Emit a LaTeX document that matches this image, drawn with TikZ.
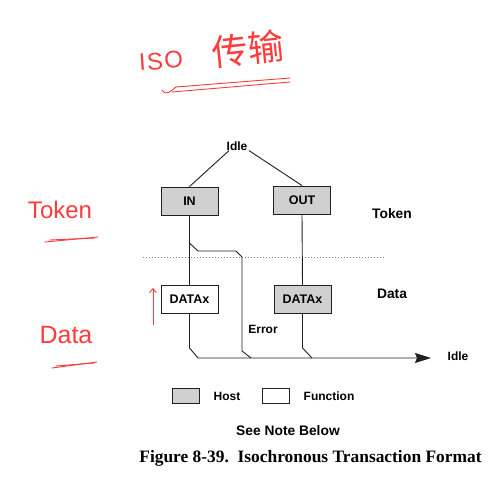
\documentclass[tikz,border=0pt]{standalone}
\usepackage{fontspec}
\setmainfont{Liberation Sans}
\newfontfamily\capfont{Liberation Serif}
\newfontfamily\cjkfont{Noto Sans CJK SC}
\usetikzlibrary{arrows.meta}
\definecolor{boxgray}{HTML}{D0D0D0}
\definecolor{linegray}{HTML}{202020}
\definecolor{hand}{HTML}{FF3B3B}
\begin{document}
\begin{tikzpicture}[x=1pt,y=-1pt,
  pbox/.style={draw=linegray,line width=0.9pt,minimum width=57pt,minimum height=28pt,inner sep=0pt,font=\bfseries\fontsize{12.5}{12.5}\selectfont},
  hostbox/.style={pbox,fill=boxgray},
  funcbox/.style={pbox,fill=white},
  lbl/.style={inner sep=0pt,font=\bfseries\fontsize{12}{12}\selectfont},
  biglbl/.style={inner sep=0pt,font=\bfseries\fontsize{13.8}{14}\selectfont},
  wire/.style={draw=linegray,line width=0.9pt},
  handink/.style={draw=hand,line width=0.9pt,line cap=round},
  handtxt/.style={text=hand,inner sep=0pt}]
\useasboundingbox (0,0) rectangle (504,486);
% handwritten annotations
\node[handtxt,rotate=4,font=\fontsize{24}{24}\selectfont\addfontfeatures{LetterSpace=6}] (iso) at (161,61) {ISO};
\node[handtxt,rotate=6,font=\cjkfont\fontsize{36}{36}\selectfont] (chuan) at (248,49) {传输};
\draw[handink] (162,90) .. controls (166,96) and (170,92) .. (176,87) -- (290,78);
\draw[handink] (172,92) -- (290,82);
\node[handtxt,font=\fontsize{24}{24}\selectfont] (tokh) at (60,210) {Token};
\draw[handink] (45,242) -- (98,237);
\draw[handink] (50,240) -- (95,238);
\node[handtxt,font=\fontsize{25}{25}\selectfont] (datah) at (66,335) {Data};
\draw[handink] (52,368) -- (97,362);
\draw[handink] (56,366) -- (94,363);
\coordinate (ra) at (153,325);
\coordinate (rb) at (153,288);
\draw[handink,-{Straight Barb[length=4pt,width=7pt]}] (ra) -- (rb);
% top idle
\node[lbl] (idle) at (237,146) {Idle};
\node[hostbox] (in) at (189.5,201) {\raisebox{-4pt}{IN}};
\node[hostbox] (out) at (302,200) {\raisebox{-4pt}{OUT}};
\node[funcbox] (dxf) at (189.5,299) {\raisebox{-3pt}{DATAx}};
\node[hostbox] (dxh) at (302.5,299.5) {\raisebox{-3pt}{DATAx}};
\draw[wire] ([xshift=-8pt]idle.south) -- (in.north);
\draw[wire] ([xshift=12pt]idle.south) -- (out.north);
\node[biglbl] (token) at (392,214) {Token};
\node[biglbl] (data) at (392,294) {Data};
\draw[gray,line width=0.7pt,dash pattern=on 1pt off 2pt] (143,257) -- (385,257);
% connectors
\coordinate (br) at (189.5,243);
\draw[wire] (in.south) -- (dxf.north);
\draw[wire] (br) -- (198,251) -- (236,251) -- (242,257) -- (242,351) -- (251,358);
\coordinate (end) at (431,358);
\draw[wire,-{Stealth[length=16pt,width=10pt,inset=2pt]}] (dxf.south) -- (189.5,348) -- (198,358) -- (end);
\draw[wire] (out.south) -- (dxh.north);
\draw[wire] (dxh.south) -- (302.5,348) -- (312,358);
\node[lbl] (err) at (263,329) {Error};
\node[lbl] (idle2) at (458,356) {Idle};
% legend
\node[hostbox,minimum width=27pt,minimum height=15pt] (lh) at (185.5,395.5) {};
\node[lbl] (lht) at (227,396) {Host};
\node[funcbox,minimum width=27pt,minimum height=15pt] (lf) at (275.5,395.5) {};
\node[lbl] (lft) at (329,396) {Function};
\node[biglbl] (note) at (288,431) {See Note Below};
\node[inner sep=0pt,font=\capfont\bfseries\fontsize{17.4}{18}\selectfont] (cap) at (310.5,458) {Figure 8-39.\ \ Isochronous Transaction Format};
\end{tikzpicture}
\end{document}
